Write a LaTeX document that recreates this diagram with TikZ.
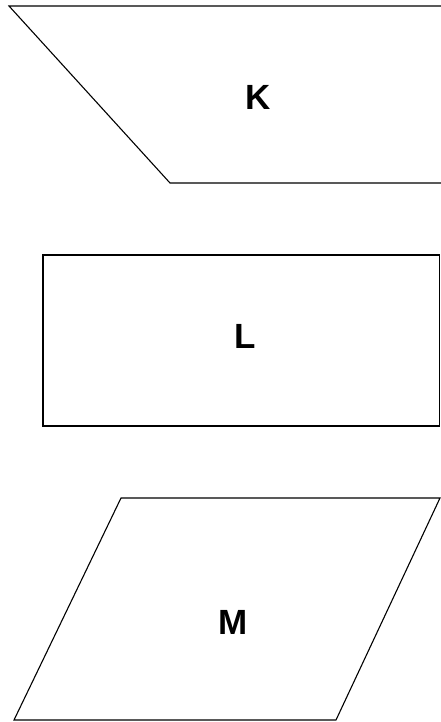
\documentclass[tikz,border=0pt]{standalone}
\usepackage{fontspec}
\setmainfont{Liberation Sans}
\begin{document}
\begin{tikzpicture}[x=1pt,y=-1pt,
  shapeline/.style={draw=black,line width=1.1pt,line join=miter},
  lbl/.style={font=\fontsize{35}{40}\selectfont\bfseries,inner sep=0pt}]
\useasboundingbox (0,0) rectangle (440,722);
% K: trapezoid clipped at right edge
\draw[shapeline] (441,6) -- (9,6) -- (170,183) -- (441,183);
\node[lbl] (K) at (258,97) {K};
% L: rectangle
\draw[shapeline] (43,255) rectangle (439.5,426);
\node[lbl] (L) at (245,336) {L};
% M: parallelogram
\draw[shapeline] (121,498) -- (440,498) -- (336,720) -- (14,720) -- cycle;
\node[lbl] (M) at (233,622) {M};
\end{tikzpicture}
\end{document}
